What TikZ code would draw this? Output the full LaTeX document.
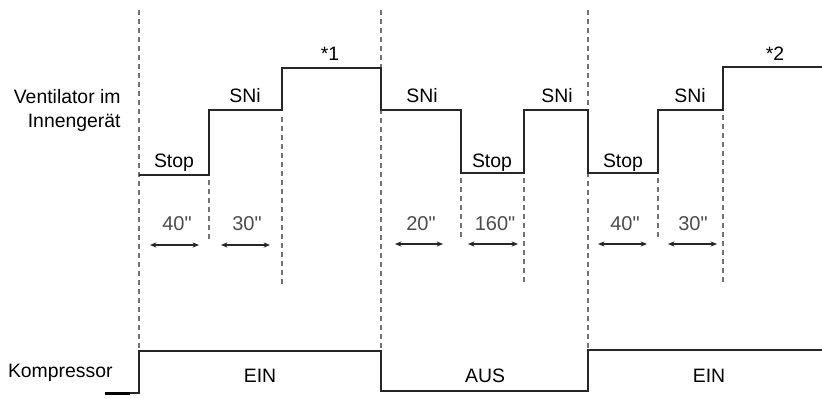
\documentclass[tikz,border=0pt]{standalone}
\usepackage{fontspec}
\setmainfont{Liberation Sans}
\newfontfamily\durfont{Liberation Sans}[Ligatures=TeXOff]
\usepackage{xcolor}
\usepackage{tikz}
\usetikzlibrary{arrows.meta}

\begin{document}
\begin{tikzpicture}[
    x=0.5pt, y=-0.5pt,
    >={Stealth[length=3.2pt,width=2.6pt]},
    every node/.style={font=\fontsize{9.7}{12}\selectfont, inner sep=0pt},
    every text node part/.style={align=right},
    wave/.style={line width=1pt, black!85},
    marker/.style={dash pattern=on 2.5pt off 2pt, line width=0.75pt, black!55},
    period/.style={<->, line width=0.6pt, black!85},
    durlabel/.style={font=\durfont\fontsize{10}{12}\selectfont, black!70, anchor=base},
    statelabel/.style={anchor=base}
]
\useasboundingbox (0,0) rectangle (822,398);

% ==================== TIME MARKERS ====================
\draw[marker] (139,10) -- (139,350);
\draw[marker] (209,180) -- (209,242);
\draw[marker] (282,117) -- (282,287);
\draw[marker] (381,10) -- (381,350);
\draw[marker] (461,178) -- (461,240);
\draw[marker] (524,178) -- (524,285);
\draw[marker] (588,10) -- (588,350);
\draw[marker] (658,178) -- (658,240);
\draw[marker] (723,115) -- (723,283);

% ==================== FAN (INDOOR UNIT) ====================
\node[anchor=east] (fanlabel) at (121,110) {Ventilator im\\Innengerät};
\draw[wave] (139,175) -- (209,175) -- (209,110) -- (282,110) -- (282,68) -- (381,68) -- (381,110) -- (461,110) -- (461,173) -- (524,173) -- (524,110) -- (588,110) -- (588,173) -- (658,173) -- (658,110) -- (723,110) -- (723,67) -- (822,67);

\node[statelabel] (stopA) at (174,167) {Stop};
\node[statelabel] (sniA) at (245,102) {SNi};
\node[statelabel] (note1) at (330,60) {*1};
\node[statelabel] (sniB) at (422,102) {SNi};
\node[statelabel] (stopB) at (492,167) {Stop};
\node[statelabel] (sniC) at (557,102) {SNi};
\node[statelabel] (stopC) at (623,167) {Stop};
\node[statelabel] (sniD) at (690,102) {SNi};
\node[statelabel] (note2) at (775,60) {*2};

% Durations
\node[durlabel] (durA) at (177,230) {40"};
\draw[period] (150,245) -- (199,245);
\node[durlabel] (durB) at (247,230) {30"};
\draw[period] (221,245) -- (270,245);
\node[durlabel] (durC) at (421,230) {20"};
\draw[period] (395,244) -- (443,244);
\node[durlabel] (durD) at (495,230) {160"};
\draw[period] (468,244) -- (518,244);
\node[durlabel] (durE) at (625,230) {40"};
\draw[period] (598,244) -- (647,244);
\node[durlabel] (durF) at (693,230) {30"};
\draw[period] (668,244) -- (717,244);

% ==================== COMPRESSOR ====================
\node[anchor=base east] (complabel) at (113,377) {Kompressor};
\draw[wave] (105,393) -- (139,393) -- (139,351) -- (381,351) -- (381,391) -- (588,391) -- (588,350) -- (822,350);
\draw[line width=1.8pt, black] (105,393.5) -- (130,393.5);

\node[statelabel] (einA) at (260,382) {EIN};
\node[statelabel] (aus) at (485,382) {AUS};
\node[statelabel] (einB) at (709,382) {EIN};

\end{tikzpicture}
\end{document}
